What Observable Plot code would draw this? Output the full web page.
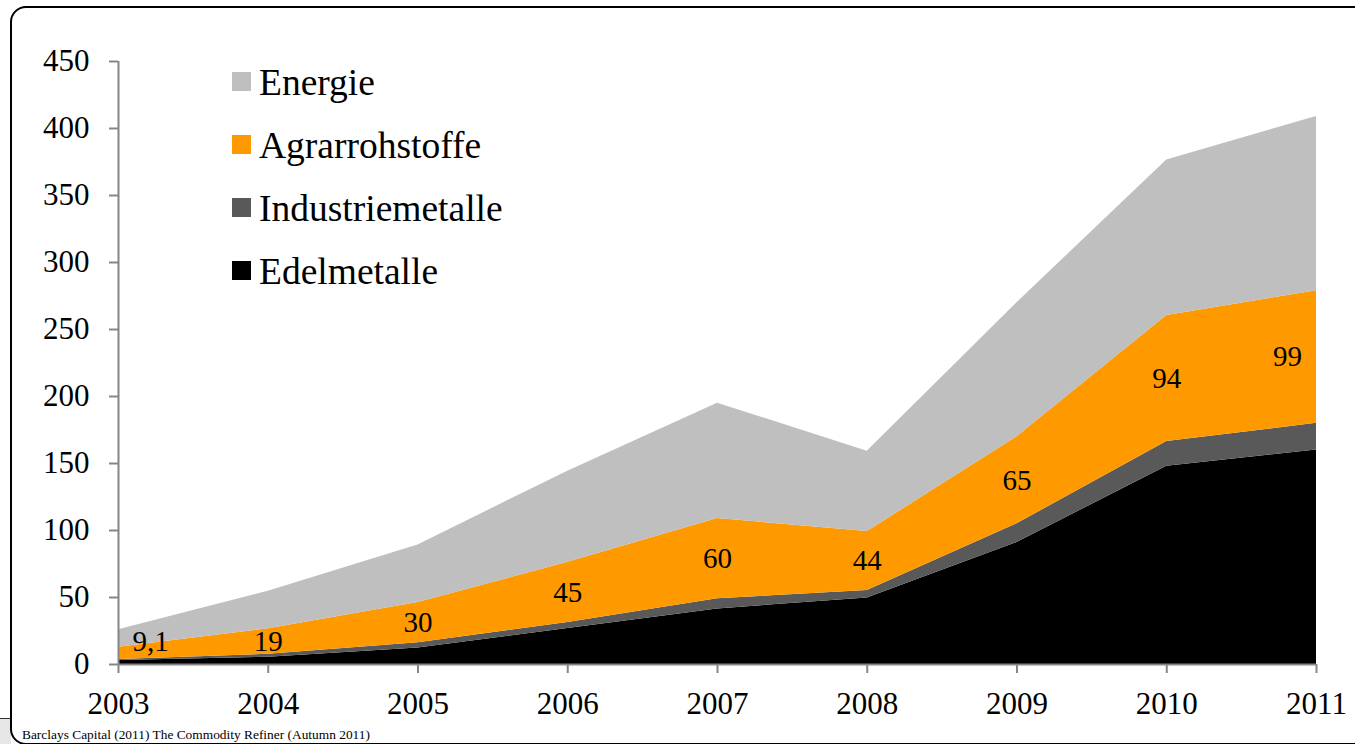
<!DOCTYPE html>
<html>
<head>
<meta charset="utf-8">
<script src="https://cdn.jsdelivr.net/npm/d3@7"></script>
<script src="https://cdn.jsdelivr.net/npm/@observablehq/plot@0.6"></script>
<style>
  html, body { margin: 0; padding: 0; background: #fff; }
  body { width: 1355px; height: 744px; overflow: hidden; position: relative; font-family: "Liberation Serif", "Times New Roman", serif; }
  #chart { position: absolute; left: 0; top: 0; }
  #frame { position: absolute; left: 10px; top: 6px; width: 1400px; height: 735px; border: 2px solid #000; border-radius: 16px; pointer-events: none; z-index: 5; }
  #slidebg { position: absolute; left: 0; top: 718px; width: 11px; height: 30px; background: #e6e6e6; border-top: 1px solid #333; }
  #legend { position: absolute; left: 232px; top: 50px; z-index: 3; }
  .row { display: flex; align-items: center; height: 63px; }
  .sw { width: 19px; height: 19px; margin-right: 8px; flex: none; }
  .lab { font-family: "Liberation Serif", "Times New Roman", serif; font-size: 37.5px; color: #000; line-height: 1; position: relative; top: 1px; }
  #caption { position: absolute; left: 22px; top: 727px; font-family: "Liberation Serif", "Times New Roman", serif; font-size: 13.4px; color: #000; white-space: nowrap; z-index: 6; }
</style>
</head>
<body>
<div id="slidebg"></div>
<div id="chart"></div>
<div id="legend"></div>
<div id="frame"></div>
<div id="caption">Barclays Capital (2011) The Commodity Refiner (Autumn 2011)</div>
<script>
const years = [2003, 2004, 2005, 2006, 2007, 2008, 2009, 2010, 2011];
const edelmetalle      = [3, 5.4, 12.4, 26.8, 41.5, 49.7, 91, 148, 160];
const industriemetalle = [0.8, 2.2, 3.8, 4.5, 7.5, 5.5, 14, 18.4, 20];
const agrarrohstoffe   = [9.1, 19, 30, 45, 60, 44, 65, 94, 99];
const energie          = [13, 28, 43, 68, 86, 60, 100, 116, 130];
const agrarLabels = ["9,1", "19", "30", "45", "60", "44", "65", "94", "99"];
const seriesNames = ["Edelmetalle", "Industriemetalle", "Agrarrohstoffe", "Energie"];
const seriesColors = ["#000000", "#595959", "#FF9900", "#BFBFBF"];
const yTicks = [0, 50, 100, 150, 200, 250, 300, 350, 400, 450];

const seriesValues = [edelmetalle, industriemetalle, agrarrohstoffe, energie];
const table = [];
seriesNames.forEach((name, si) => {
  years.forEach((yr, i) => table.push({ year: yr, series: name, value: seriesValues[si][i] }));
});

const labels = years.map((yr, i) => {
  const base = edelmetalle[i] + industriemetalle[i];
  return { year: yr, mid: base + agrarrohstoffe[i] / 2, text: agrarLabels[i], i };
});

const serif = "Liberation Serif, Times New Roman, serif";
const axisColor = "#868686";
const H = 720;
const last = years.length - 1;
const plot = Plot.plot({
  width: 1355,
  height: H,
  marginLeft: 118,
  marginRight: 39,
  marginTop: 61,
  marginBottom: H - 664,
  style: { fontFamily: serif, background: "transparent", overflow: "visible" },
  x: { type: "linear", domain: [2003, 2011], ticks: years, tickFormat: d => String(d) },
  y: { domain: [0, 450], ticks: yTicks },
  color: { domain: seriesNames, range: seriesColors },
  marks: [
    Plot.areaY(table, { x: "year", y: "value", z: "series", fill: "series", order: seriesNames }),
    Plot.ruleX([2003], { stroke: axisColor, strokeWidth: 2 }),
    Plot.ruleY([0], { stroke: axisColor, strokeWidth: 2 }),
    Plot.axisY({ ticks: yTicks, tickSize: 9, tickPadding: 20, fontSize: 31, fontFamily: serif, stroke: axisColor, strokeWidth: 2, color: "#000", label: null }),
    Plot.axisX({ ticks: years, tickFormat: d => String(d), tickSize: 9, tickPadding: 18, fontSize: 31, fontFamily: serif, stroke: axisColor, strokeWidth: 2, color: "#000", label: null }),
    Plot.text(labels.filter(d => d.i > 0 && d.i < last), { x: "year", y: "mid", text: "text", fontSize: 29, fontFamily: serif, fill: "#000" }),
    Plot.text(labels.filter(d => d.i === 0), { x: "year", y: "mid", text: "text", fontSize: 29, fontFamily: serif, fill: "#000", dx: 32, dy: -12 }),
    Plot.text(labels.filter(d => d.i === last), { x: "year", y: "mid", text: "text", fontSize: 29, fontFamily: serif, fill: "#000", dx: -29 })
  ]
});
document.getElementById("chart").appendChild(plot);

// legend (top-down order as in the reference)
const legend = document.getElementById("legend");
[...seriesNames].reverse().forEach(name => {
  const idx = seriesNames.indexOf(name);
  const row = document.createElement("div");
  row.className = "row";
  const sw = document.createElement("div");
  sw.className = "sw";
  sw.style.background = seriesColors[idx];
  const lab = document.createElement("span");
  lab.className = "lab";
  lab.textContent = name;
  row.appendChild(sw);
  row.appendChild(lab);
  legend.appendChild(row);
});
</script>
</body>
</html>
